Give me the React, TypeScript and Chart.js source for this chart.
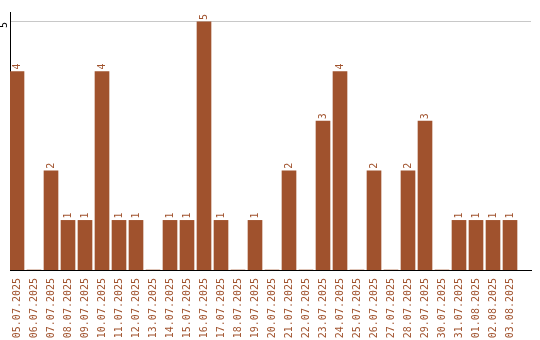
import React, { useEffect, useRef } from "react";
import { Chart, registerables } from "chart.js";

Chart.register(...registerables);

const categories = [
  "05.07.2025", "06.07.2025", "07.07.2025", "08.07.2025", "09.07.2025",
  "10.07.2025", "11.07.2025", "12.07.2025", "13.07.2025", "14.07.2025",
  "15.07.2025", "16.07.2025", "17.07.2025", "18.07.2025", "19.07.2025",
  "20.07.2025", "21.07.2025", "22.07.2025", "23.07.2025", "24.07.2025",
  "25.07.2025", "26.07.2025", "27.07.2025", "28.07.2025", "29.07.2025",
  "30.07.2025", "31.07.2025", "01.08.2025", "02.08.2025", "03.08.2025",
];
const counts = [4, 0, 2, 1, 1, 4, 1, 1, 0, 1, 1, 5, 1, 0, 1, 0, 2, 0, 3, 4, 0, 2, 0, 2, 3, 0, 1, 1, 1, 1];
const yTickValues = [5];

const BAR_COLOR = "#A0522D";
const FONT = "'DejaVu Sans Mono', monospace";

const valueLabels = {
  id: "valueLabels",
  afterDatasetsDraw(chart: any) {
    const ctx = chart.ctx;
    const meta = chart.getDatasetMeta(0);
    ctx.save();
    ctx.fillStyle = BAR_COLOR;
    ctx.font = `10px ${FONT}`;
    ctx.textAlign = "left";
    ctx.textBaseline = "middle";
    meta.data.forEach((el: any, i: number) => {
      const v = counts[i];
      if (!v) return;
      ctx.save();
      ctx.translate(el.x, el.y - 2);
      ctx.rotate(-Math.PI / 2);
      ctx.fillText(String(v), 0, 0);
      ctx.restore();
    });
    ctx.restore();
  },
};

export default function App() {
  const ref = useRef<HTMLCanvasElement | null>(null);

  useEffect(() => {
    if (!ref.current) return;
    const unit = 17;
    const areaWidth = 521;
    const xMin = -7 / unit;
    const xMax = xMin + areaWidth / unit;
    const chart = new Chart(ref.current, {
      type: "bar",
      data: {
        datasets: [
          {
            data: counts.map((v, i) => ({ x: i, y: v })),
            backgroundColor: BAR_COLOR,
            barThickness: 14,
          },
        ],
      },
      options: {
        animation: false,
        responsive: false,
        maintainAspectRatio: false,
        layout: { padding: { top: 10, right: 9, left: 0, bottom: 0 } },
        plugins: { legend: { display: false }, tooltip: { enabled: false } },
        scales: {
          x: {
            type: "linear",
            min: xMin,
            max: xMax,
            offset: false,
            grid: { display: false },
            border: { display: true, color: "#000", width: 1 },
            afterBuildTicks: (s: any) => {
              s.ticks = categories.map((_, i) => ({ value: i }));
            },
            afterFit: (s: any) => {
              s.height = 70;
            },
            ticks: {
              autoSkip: false,
              minRotation: 90,
              maxRotation: 90,
              color: BAR_COLOR,
              padding: 0,
              font: { family: FONT, size: 10 },
              callback: (v: any) => categories[Math.round(Number(v))] ?? "",
            },
          },
          y: {
            type: "linear",
            min: 0,
            max: 5.2,
            afterBuildTicks: (s: any) => {
              s.ticks = yTickValues.map((v) => ({ value: v }));
            },
            afterFit: (s: any) => {
              s.width = 10;
            },
            grid: { color: "#c8c8c8", drawTicks: false, lineWidth: 1 },
            border: { display: true, color: "#000", width: 1 },
            ticks: {
              minRotation: 90,
              maxRotation: 90,
              color: "#000",
              padding: 6,
              font: { family: FONT, size: 10 },
            },
          },
        },
      },
      plugins: [valueLabels],
    });
    return () => chart.destroy();
  }, []);

  return (
    <div style={{ position: "fixed", left: 0, top: 0, width: 540, height: 340, background: "#fff" }}>
      <canvas ref={ref} width={540} height={340} style={{ display: "block", width: 540, height: 340 }} />
    </div>
  );
}
